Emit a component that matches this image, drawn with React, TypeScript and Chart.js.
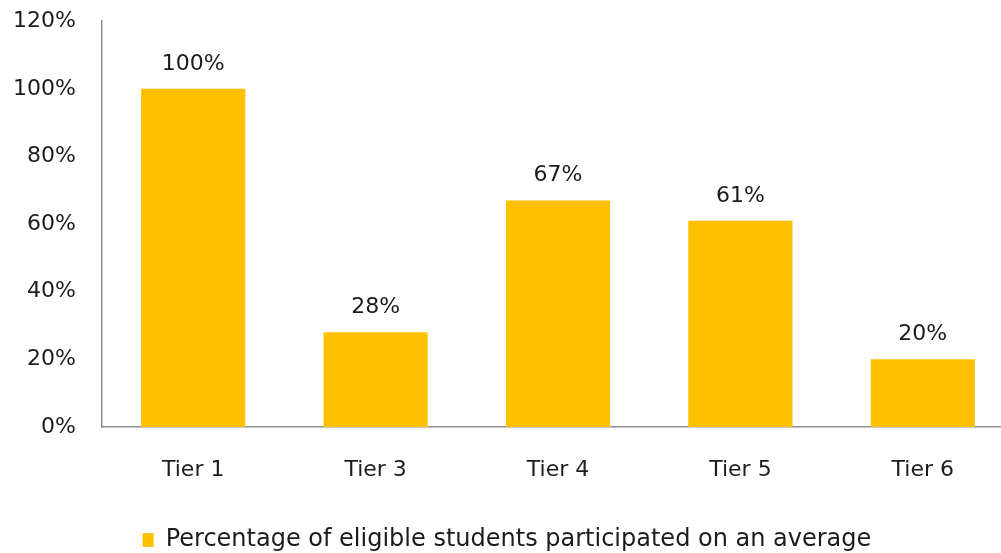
import React, { useEffect, useRef } from "react";
import { Chart, registerables } from "chart.js";

Chart.register(...registerables);

const categories = ["Tier 1", "Tier 3", "Tier 4", "Tier 5", "Tier 6"];
const participation = [100, 28, 67, 61, 20];
const seriesLabel = "Percentage of eligible students participated on an average";
const yMin = 0;
const yMax = 120;
const yStep = 20;

const FONT = "'DejaVu Sans', sans-serif";
const TEXT = "#1c1c1c";

const valueLabels = {
  id: "valueLabels",
  afterDatasetsDraw(chart: any) {
    const ctx = chart.ctx;
    const meta = chart.getDatasetMeta(0);
    ctx.save();
    ctx.font = `22px ${FONT}`;
    ctx.fillStyle = TEXT;
    ctx.textAlign = "center";
    ctx.textBaseline = "alphabetic";
    meta.data.forEach((bar: any, i: number) => {
      const v = chart.data.datasets[0].data[i];
      ctx.fillText(`${v}%`, bar.x, bar.y - 19);
    });
    ctx.restore();
  },
};

export default function App() {
  const ref = useRef<HTMLCanvasElement | null>(null);

  useEffect(() => {
    if (!ref.current) return;
    const chart = new Chart(ref.current, {
      type: "bar",
      data: {
        labels: categories,
        datasets: [
          {
            label: seriesLabel,
            data: participation,
            backgroundColor: "#FFC000",
            borderWidth: 0,
            barPercentage: 0.571,
            categoryPercentage: 1,
          },
        ],
      },
      options: {
        responsive: false,
        maintainAspectRatio: false,
        animation: false,
        devicePixelRatio: 1,
        layout: { padding: { top: 0, left: 0, right: 0, bottom: 0 } },
        plugins: {
          tooltip: { enabled: false },
          legend: {
            position: "bottom",
            labels: {
              font: { family: FONT, size: 24 },
              color: TEXT,
              boxWidth: 11,
              boxHeight: 14,
              padding: 1,
            },
          },
        },
        scales: {
          x: {
            grid: { display: false, drawTicks: false },
            border: { display: true, color: "#8f8f8f", width: 1.5 },
            ticks: {
              font: { family: FONT, size: 22 },
              color: TEXT,
              padding: 30,
              maxRotation: 0,
            },
            afterFit(scale: any) {
              scale.height = 100;
            },
          },
          y: {
            min: yMin,
            max: yMax,
            grid: { display: false, drawTicks: false },
            border: { display: true, color: "#8f8f8f", width: 1.5 },
            ticks: {
              stepSize: yStep,
              font: { family: FONT, size: 22 },
              color: TEXT,
              padding: 26,
              callback: (v: any) => `${v}%`,
            },
            afterFit(scale: any) {
              scale.width = 102;
            },
          },
        },
      },
      plugins: [valueLabels],
    });
    return () => chart.destroy();
  }, []);

  return (
    <div
      style={{
        position: "fixed",
        left: 0,
        top: 0,
        width: 1001,
        height: 553,
        overflow: "hidden",
        background: "#fff",
      }}
    >
      <canvas
        ref={ref}
        width={1014}
        height={580}
        style={{ display: "block", marginTop: -18 }}
      />
    </div>
  );
}
